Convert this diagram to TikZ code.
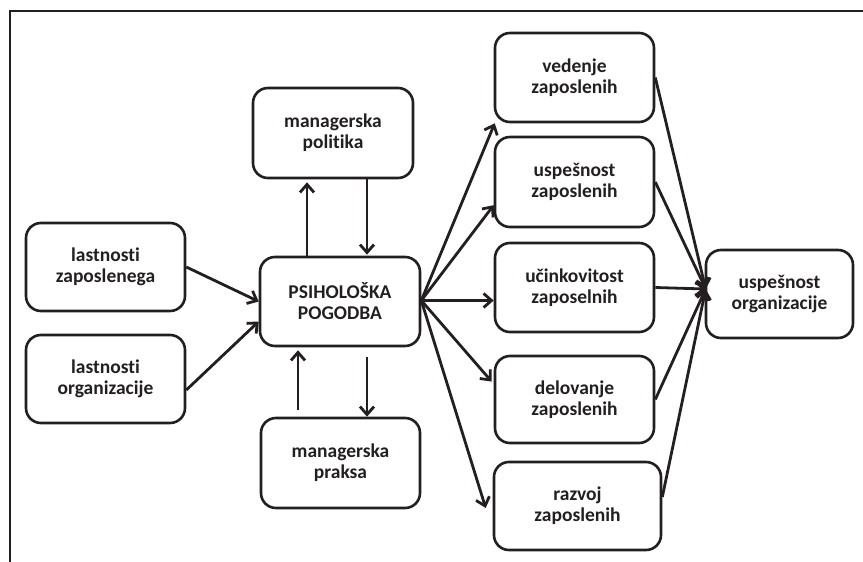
\documentclass[tikz,border=0pt]{standalone}
\usepackage{fontspec}
\setmainfont{Carlito}[Ligatures=NoCommon]
\usetikzlibrary{arrows.meta,calc}
\definecolor{ink}{RGB}{35,31,32}
\begin{document}
\begin{tikzpicture}[x=1pt,y=-1pt,
  box/.style={draw=ink,line width=2.6pt,rounded corners=15pt,align=center,
    font=\bfseries\fontsize{19.5}{21}\selectfont,text=ink,inner sep=0pt},
  arr/.style={draw=ink,line width=2.8pt,-{Straight Barb[length=8pt,width=14pt,line width=2.8pt]}},
  ln/.style={draw=ink,line width=2.6pt}]
\useasboundingbox (0,0) rectangle (863,562);
\draw[ln] (10,562) -- (10,11) -- (863,11);
% nodes
\node[box,minimum width=160,minimum height=90] (politika) at (333,133) {managerska\\politika};
\node[box,minimum width=160,minimum height=89] (psih) at (340,301.5) {PSIHOLOŠKA\\POGODBA};
\node[box,minimum width=159,minimum height=90] (praksa) at (340.5,463) {managerska\\praksa};
\node[box,minimum width=159,minimum height=88] (lz) at (105.5,267) {lastnosti\\zaposlenega};
\node[box,minimum width=159,minimum height=88] (lo) at (105.5,379) {lastnosti\\organizacije};
\node[box,minimum width=159,minimum height=89] (vedenje) at (574.5,77.5) {vedenje\\zaposlenih};
\node[box,minimum width=159,minimum height=90] (uspesnost) at (574.5,182) {uspešnost\\zaposlenih};
\node[box,minimum width=159,minimum height=89] (ucink) at (574.5,287.5) {učinkovitost\\zaposelnih};
\node[box,minimum width=159,minimum height=87] (delov) at (574.5,399.5) {delovanje\\zaposlenih};
\node[box,minimum width=167,minimum height=88] (razvoj) at (577.5,506) {razvoj\\zaposlenih};
\node[box,minimum width=147,minimum height=88] (org) at (779.5,294) {uspešnost\\organizacije};
% coordinates
\coordinate (pe) at ($(psih.east)+(0,-1)$);
\coordinate (oin) at ($(org.west)+(1,-5)$);
% left inputs
\draw[arr] (lz.east) -- (psih.west);
\draw[arr] ($(lo.east)+(0,11)$) -- ($(psih.west)+(0,20)$);
% politika / praksa
\draw[arr] (psih.north -| 307,0) -- ($(politika.south -| 307,0)+(0,3)$);
\draw[arr] (politika.south -| 367,0) -- ($(psih.north -| 367,0)+(0,-1)$);
\draw[arr] ($(praksa.north -| 298,0)+(0,-7)$) -- ($(psih.south -| 298,0)+(0,3)$);
\draw[arr] ($(psih.south -| 367,0)+(0,10)$) -- (praksa.north -| 367,0);
% fan-out
\draw[arr] (pe) -- ($(vedenje.south west)+(1,0)$);
\draw[arr] (pe) -- ($(uspesnost.south west)!.5!(uspesnost.west)$);
\draw[arr] (pe) -- (pe -| ucink.west);
\draw[arr] (pe) -- ($(delov.north west)!.6!(delov.west)+(-2,0)$);
\draw[arr] (pe) -- ($(razvoj.west)+(-7,2)$);
% fan-in
\draw[arr] (vedenje.east) -- (oin);
\draw[arr] (uspesnost.east) -- (oin);
\draw[arr] (ucink.east) -- (oin);
\draw[arr] (delov.east) -- (oin);
\draw[arr] ($(razvoj.east)+(0,-9)$) -- (oin);
\end{tikzpicture}
\end{document}
